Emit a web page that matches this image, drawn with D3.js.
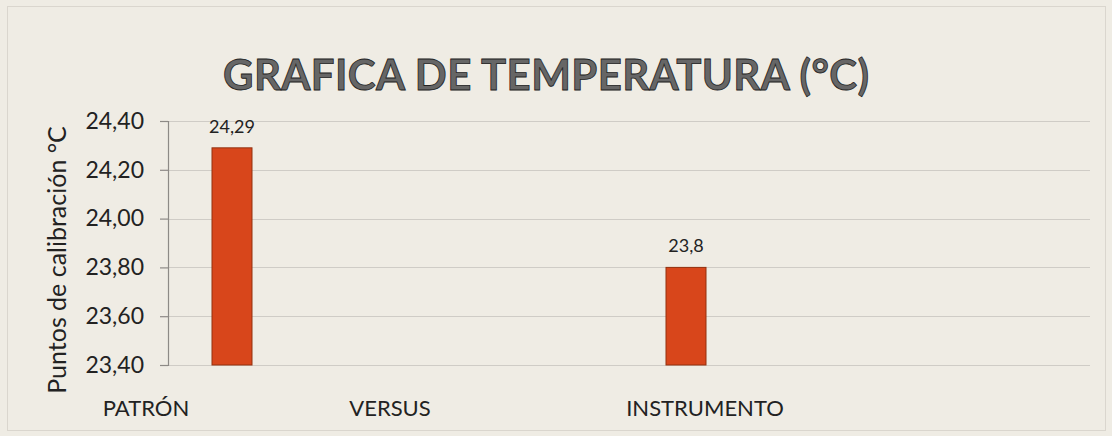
<!DOCTYPE html>
<html>
<head>
<meta charset="utf-8">
<script src="https://cdn.jsdelivr.net/npm/d3@7"></script>
<style>
  html, body { margin: 0; padding: 0; background: #efece4; }
  svg { display: block; }
</style>
</head>
<body>
<svg id="chart" width="1112" height="436"></svg>
<script>
// ---- data ----
const categories = ["PATRÓN", "VERSUS", "INSTRUMENTO"];
const values = [24.29, null, 23.8];
const valueLabels = ["24,29", "", "23,8"];
const yTicks = [23.4, 23.6, 23.8, 24.0, 24.2, 24.4];
const titleText = "GRAFICA DE TEMPERATURA (°C)";
const yAxisTitle = "Puntos de calibración °C";

// ---- layout ----
const W = 1112, H = 436;
const plot = { left: 168, right: 1090, top: 121, bottom: 365 };
const svg = d3.select("#chart");
const font = "Lato, 'Open Sans', sans-serif";

svg.append("rect").attr("x", 0).attr("y", 0).attr("width", W).attr("height", H).attr("fill", "#efece4");
svg.append("rect").attr("x", 7.5).attr("y", 6.5).attr("width", 1098).attr("height", 424)
  .attr("fill", "none").attr("stroke", "#dad6ce").attr("stroke-width", 1);

const y = d3.scaleLinear().domain([23.4, 24.4]).range([plot.bottom, plot.top]);
const x = d3.scalePoint().domain(categories).range([232, 686]);
const barW = 40;
// label horizontal offsets (layout) relative to category point
const labelOffset = { "PATRÓN": -86, "VERSUS": -69, "INSTRUMENTO": 19 };

// gridlines
svg.append("g").selectAll("line").data(yTicks).join("line")
  .attr("x1", plot.left).attr("x2", plot.right)
  .attr("y1", d => Math.round(y(d)) + 0.5).attr("y2", d => Math.round(y(d)) + 0.5)
  .attr("stroke", "#cfccc6").attr("stroke-width", 1.2);

// y axis
const yAxis = d3.axisLeft(y).tickValues(yTicks).tickSize(8).tickPadding(16)
  .tickFormat(d => d3.format(".2f")(d).replace(".", ","));
const gy = svg.append("g").attr("transform", `translate(${plot.left},0)`).call(yAxis);
gy.select(".domain").attr("stroke", "#8d8a86").attr("stroke-width", 1.2);
gy.selectAll(".tick line").attr("stroke", "#8d8a86").attr("stroke-width", 1.2);
gy.selectAll(".tick text").attr("font-family", font).attr("font-size", 23).attr("fill", "#222");

// bars
const barData = categories.map((c, i) => ({ c, v: values[i], lbl: valueLabels[i] })).filter(d => d.v != null);
svg.append("g").selectAll("rect").data(barData).join("rect")
  .attr("x", d => x(d.c) - barW / 2).attr("width", barW)
  .attr("y", d => y(d.v)).attr("height", d => y(23.4) - y(d.v))
  .attr("fill", "#d8461b").attr("stroke", "#93300f").attr("stroke-width", 1);

// value labels
svg.append("g").selectAll("text").data(barData).join("text")
  .attr("x", d => x(d.c)).attr("y", d => y(d.v) - 15)
  .attr("text-anchor", "middle").attr("font-family", font).attr("font-size", 18).attr("fill", "#222")
  .text(d => d.lbl);

// category labels
svg.append("g").selectAll("text").data(categories).join("text")
  .attr("x", d => x(d) + labelOffset[d]).attr("y", 416)
  .attr("text-anchor", "middle").attr("font-family", font).attr("font-size", 22).attr("fill", "#222")
  .text(d => d);

// y axis title
svg.append("text").attr("transform", `translate(66,${260}) rotate(-90)`)
  .attr("text-anchor", "middle").attr("font-family", font).attr("font-size", 25).attr("fill", "#222")
  .text(yAxisTitle);

// title
svg.append("text").attr("x", 546).attr("y", 90).attr("text-anchor", "middle")
  .attr("font-family", font).attr("font-weight", "bold").attr("font-size", 42)
  .attr("textLength", 646).attr("lengthAdjust", "spacing")
  .attr("fill", "#666").attr("stroke", "#222").attr("stroke-width", 0.8)
  .text(titleText);
</script>
</body>
</html>
